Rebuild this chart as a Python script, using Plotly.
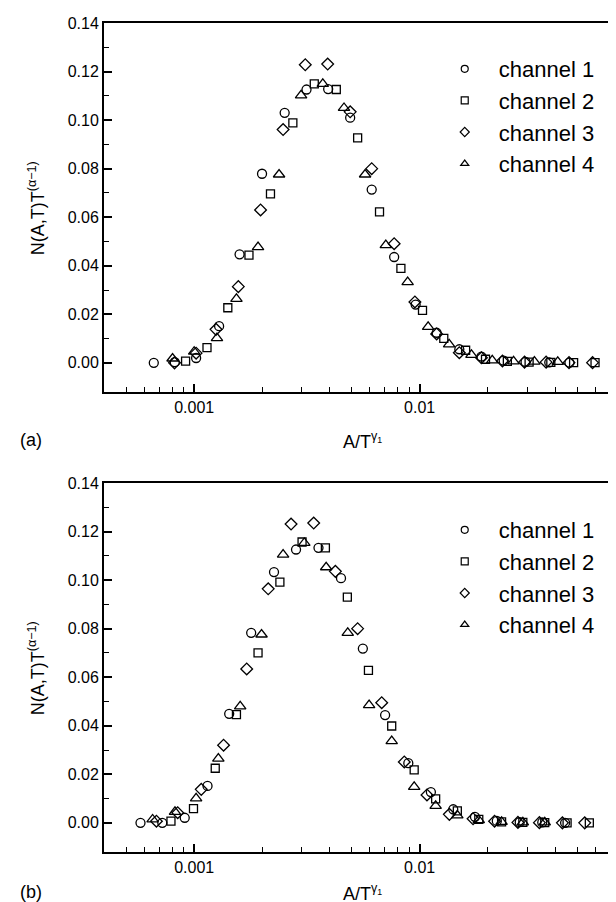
import plotly.graph_objects as go

# ---------------- data: panel (a) ----------------
a_ch1_x = [6.62e-4, 8.2e-4, 1.02e-3, 1.29e-3, 1.59e-3, 2.00e-3, 2.52e-3, 3.15e-3, 3.93e-3, 4.92e-3,
           6.13e-3, 7.71e-3, 9.6e-3, 1.19e-2, 1.50e-2, 1.88e-2, 2.36e-2, 2.95e-2, 3.76e-2, 4.62e-2]
a_ch1_y = [0.0000, 0.0003, 0.0020, 0.0151, 0.0447, 0.0779, 0.1030, 0.1126, 0.1128, 0.1010,
           0.0714, 0.0436, 0.0240, 0.0124, 0.0056, 0.0026, 0.0009, 0.0004, 0.0002, 0.0001]

a_ch2_x = [9.16e-4, 1.14e-3, 1.41e-3, 1.75e-3, 2.18e-3, 2.74e-3, 3.41e-3, 4.27e-3, 5.31e-3, 6.64e-3,
           8.26e-3, 1.03e-2, 1.28e-2, 1.60e-2, 1.96e-2, 2.45e-2, 3.06e-2, 3.82e-2, 4.82e-2, 6.00e-2]
a_ch2_y = [0.0007, 0.0063, 0.0227, 0.0444, 0.0696, 0.0989, 0.1149, 0.1126, 0.0927, 0.0622,
           0.0389, 0.0216, 0.0101, 0.0052, 0.0015, 0.0006, 0.0003, 0.0002, 0.0001, 0.0001]

a_ch3_x = [8.18e-4, 1.02e-3, 1.25e-3, 1.57e-3, 1.97e-3, 2.48e-3, 3.11e-3, 3.91e-3, 4.92e-3, 6.13e-3,
           7.71e-3, 9.53e-3, 1.19e-2, 1.50e-2, 1.88e-2, 2.33e-2, 2.92e-2, 3.64e-2, 4.60e-2, 5.85e-2]
a_ch3_y = [0.0000, 0.0040, 0.0138, 0.0314, 0.0630, 0.0961, 0.1228, 0.1231, 0.1034, 0.0800,
           0.0491, 0.0251, 0.0119, 0.0042, 0.0021, 0.0008, 0.0003, 0.0003, 0.0001, 0.0001]

a_ch4_x = [8.02e-4, 1.00e-3, 1.262e-3, 1.54e-3, 1.92e-3, 2.38e-3, 2.98e-3, 3.72e-3, 4.62e-3, 5.73e-3,
           7.08e-3, 8.85e-3, 1.091e-2, 1.352e-2, 1.698e-2, 2.10e-2, 2.61e-2, 3.23e-2, 4.10e-2]
a_ch4_y = [0.0018, 0.0046, 0.0102, 0.0264, 0.0477, 0.0776, 0.1102, 0.1149, 0.1050, 0.0776,
           0.0485, 0.0333, 0.0148, 0.0076, 0.0033, 0.0010, 0.0006, 0.0005, 0.0004]

# ---------------- data: panel (b) ----------------
b_ch1_x = [5.78e-4, 7.22e-4, 9.08e-4, 1.146e-3, 1.43e-3, 1.79e-3, 2.26e-3, 2.83e-3, 3.56e-3, 4.48e-3,
           5.60e-3, 7.03e-3, 8.91e-3, 1.122e-2, 1.41e-2, 1.76e-2, 2.20e-2, 2.78e-2, 3.50e-2, 4.42e-2]
b_ch1_y = [0.0000, 0.0000, 0.0021, 0.0152, 0.0449, 0.0783, 0.1033, 0.1126, 0.1133, 0.1008,
           0.0718, 0.0444, 0.0246, 0.0127, 0.0056, 0.0025, 0.0008, 0.0003, 0.0002, 0.0000]

b_ch2_x = [7.89e-4, 9.93e-4, 1.24e-3, 1.54e-3, 1.92e-3, 2.40e-3, 3.01e-3, 3.82e-3, 4.78e-3, 5.93e-3,
           7.52e-3, 9.46e-3, 1.178e-2, 1.47e-2, 1.83e-2, 2.31e-2, 2.87e-2, 3.59e-2, 4.51e-2, 5.66e-2]
b_ch2_y = [0.0007, 0.0059, 0.0225, 0.0446, 0.0700, 0.0992, 0.1157, 0.1133, 0.0930, 0.0628,
           0.0399, 0.0218, 0.0099, 0.0049, 0.0014, 0.0004, 0.0002, 0.0001, 0.0000, 0.0000]

b_ch3_x = [6.80e-4, 8.45e-4, 1.075e-3, 1.35e-3, 1.71e-3, 2.13e-3, 2.69e-3, 3.39e-3, 4.23e-3, 5.31e-3,
           6.79e-3, 8.55e-3, 1.078e-2, 1.355e-2, 1.726e-2, 2.15e-2, 2.73e-2, 3.40e-2, 4.30e-2, 5.40e-2]
b_ch3_y = [0.0007, 0.0042, 0.0138, 0.0320, 0.0634, 0.0964, 0.1231, 0.1235, 0.1036, 0.0800,
           0.0495, 0.0251, 0.0115, 0.0035, 0.0017, 0.0007, 0.0002, 0.0001, 0.0000, 0.0000]

b_ch4_x = [6.54e-4, 8.22e-4, 1.02e-3, 1.28e-3, 1.60e-3, 1.99e-3, 2.48e-3, 3.08e-3, 3.85e-3, 4.80e-3,
           5.97e-3, 7.52e-3, 9.46e-3, 1.178e-2, 1.47e-2, 1.83e-2, 2.31e-2, 2.87e-2, 3.59e-2]
b_ch4_y = [0.0014, 0.0045, 0.0101, 0.0265, 0.0480, 0.0776, 0.1105, 0.1153, 0.1053, 0.0783,
           0.0485, 0.0337, 0.0148, 0.0070, 0.0031, 0.0011, 0.0004, 0.0002, 0.0002]

channel_names = ["channel 1", "channel 2", "channel 3", "channel 4"]
symbols = ["circle-open", "square-open", "diamond-open", "triangle-up-open"]
sizes = [9, 8, 9, 10]

x_major = [0.001, 0.01]
x_major_text = ["0.001", "0.01"]
x_minor = [m * 10.0 ** e for e in (-4, -3, -2) for m in range(2, 10)]
y_major = [0.00, 0.02, 0.04, 0.06, 0.08, 0.10, 0.12, 0.14]
y_minor = [0.01, 0.03, 0.05, 0.07, 0.09, 0.11, 0.13]

panel_a = [(a_ch1_x, a_ch1_y), (a_ch2_x, a_ch2_y), (a_ch3_x, a_ch3_y), (a_ch4_x, a_ch4_y)]
panel_b = [(b_ch1_x, b_ch1_y), (b_ch2_x, b_ch2_y), (b_ch3_x, b_ch3_y), (b_ch4_x, b_ch4_y)]

FONT = "Liberation Sans, Arial, sans-serif"
fig = go.Figure()

for panel, xa, ya, leg in ((panel_a, "x", "y", "legend"), (panel_b, "x2", "y2", "legend2")):
    for i, (xs, ys) in enumerate(panel):
        fig.add_trace(go.Scatter(
            x=xs, y=ys, mode="markers", xaxis=xa, yaxis=ya, showlegend=False,
            marker=dict(symbol=symbols[i], size=sizes[i], color="black", line=dict(width=1.3, color="black")),
        ))
    # legend entries (smaller symbols, like the original)
    for i in range(4):
        fig.add_trace(go.Scatter(
            x=[None], y=[None], mode="markers", xaxis=xa, yaxis=ya, name=channel_names[i],
            legend=leg, legendgroup=leg + str(i), showlegend=True,
            marker=dict(symbol=symbols[i], size=7, color="black", line=dict(width=1.2, color="black")),
        ))

axis_common = dict(showline=True, mirror=True, linecolor="black", linewidth=2, showgrid=False,
                   zeroline=False, ticks="inside", tickcolor="black", tickwidth=1.5,
                   tickfont=dict(family=FONT, size=16, color="black"))

xcfg = dict(axis_common, type="log", range=[-3.40, -1.12], tickmode="array", tickvals=x_major,
            ticktext=x_major_text, ticklen=8,
            minor=dict(ticks="inside", ticklen=5, tickvals=x_minor, tickcolor="black", tickwidth=1.2))
ycfg = dict(axis_common, range=[-0.012, 0.14], tickmode="array", tickvals=y_major,
            ticktext=["%.2f" % v for v in y_major], ticklen=8,
            minor=dict(ticks="inside", ticklen=5, tickvals=y_minor, tickcolor="black", tickwidth=1.2))

H = 902
top_px, bot_px = 15, 844
ph = bot_px - top_px
def py(p):
    return (bot_px - p) / ph
def px(p):
    return (p - 96) / 516

fig.update_layout(
    width=616, height=902, margin=dict(l=96, r=4, t=top_px, b=H - bot_px),
    paper_bgcolor="white", plot_bgcolor="white",
    font=dict(family=FONT, color="black"),
    xaxis=dict(xcfg, domain=[0, 1], anchor="y"),
    yaxis=dict(ycfg, domain=[py(384), 1], anchor="x"),
    xaxis2=dict(xcfg, domain=[0, 1], anchor="y2"),
    yaxis2=dict(ycfg, domain=[0, py(475)], anchor="x2"),
    legend=dict(x=px(424), y=py(40), xanchor="left", yanchor="top", itemwidth=58,
                tracegroupgap=0, bgcolor="rgba(0,0,0,0)",
                font=dict(family=FONT, size=22, color="black")),
    legend2=dict(x=px(424), y=py(501), xanchor="left", yanchor="top", itemwidth=58,
                 tracegroupgap=0, bgcolor="rgba(0,0,0,0)",
                 font=dict(family=FONT, size=22, color="black")),
)

ytitle = "N(A,T)T<sup>(α−1)</sup>"
xtitle = "A/T<sup>γ<sub>1</sub></sup>"
ann = []
for (cy, tx_y, lab) in ((200, 432, "(a)"), (660, 884, "(b)")):
    ann.append(dict(text=ytitle, x=px(28), y=py(cy), xref="paper", yref="paper", textangle=-90,
                    xanchor="center", yanchor="middle",
                    showarrow=False, font=dict(family=FONT, size=18, color="black")))
    ann.append(dict(text=xtitle, x=px(356), y=py(tx_y), xref="paper", yref="paper",
                    xanchor="center", yanchor="middle",
                    showarrow=False, font=dict(family=FONT, size=18, color="black")))
    ann.append(dict(text=lab, x=px(10), y=py(tx_y), xref="paper", yref="paper", xanchor="left",
                    yanchor="middle",
                    showarrow=False, font=dict(family=FONT, size=18, color="black")))
fig.update_layout(annotations=ann)

fig.write_html("out.html")
